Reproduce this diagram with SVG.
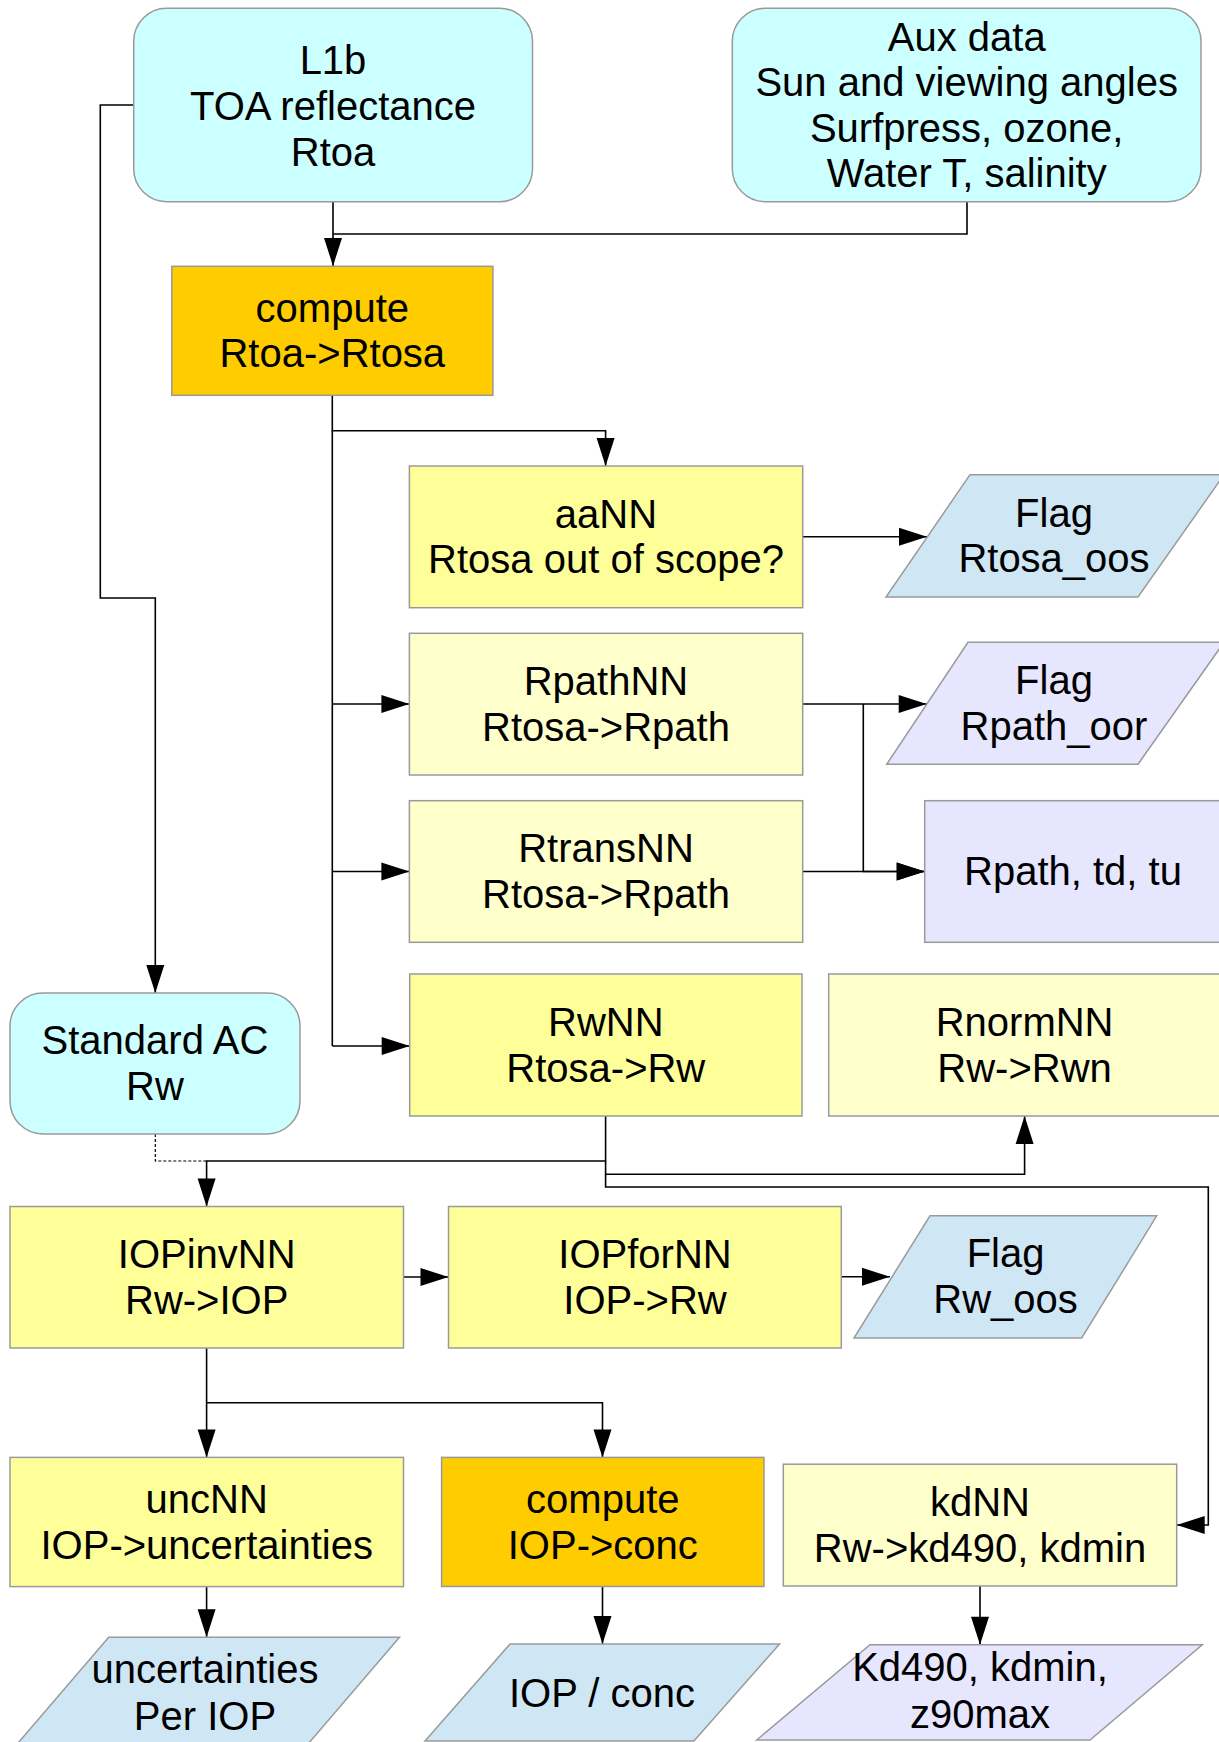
<svg xmlns="http://www.w3.org/2000/svg" width="1219" height="1742" viewBox="0 0 1219 1742">
<defs>
<marker id="arr" markerUnits="userSpaceOnUse" markerWidth="28" markerHeight="18" refX="28" refY="9" orient="auto" overflow="visible">
<path d="M0,0 L28,9 L0,18 Z" fill="#000"/>
</marker>
<style>
.cyan{fill:#CCFFFF;stroke:#9a9a9a;stroke-width:1.5}
.orange{fill:#FFCC00;stroke:#9a9a9a;stroke-width:1.5}
.yel{fill:#FFFF99;stroke:#9a9a9a;stroke-width:1.5}
.pale{fill:#FFFFCC;stroke:#9a9a9a;stroke-width:1.5}
.blue{fill:#CFE7F5;stroke:#9a9a9a;stroke-width:1.5}
.lav{fill:#E6E6FF;stroke:#9a9a9a;stroke-width:1.5}
text{font-family:"Liberation Sans",Arial,sans-serif;font-size:40px;fill:#000;text-anchor:middle}
.c{fill:none;stroke:#000;stroke-width:1.6}
.a{marker-end:url(#arr)}
.d{fill:none;stroke:#000;stroke-width:1.2;stroke-dasharray:3,2}
</style>
</defs>
<rect width="1219" height="1742" fill="#fff"/>

<g id="connectors">
<path class="c a" d="M333,201.7 V266"/>
<path class="c" d="M967,201.7 V234 H333"/>
<path class="c a" d="M133.7,105 H100.3 V598 H155.3 V993"/>
<path class="c a" d="M332.3,395.3 V430.7 H605.6 V466"/>
<path class="c" d="M332.3,430.7 V1046"/>
<path class="c a" d="M332.3,704 H409.4"/>
<path class="c a" d="M332.3,871.5 H409.4"/>
<path class="c a" d="M332.3,1046 H409.7"/>
<path class="c a" d="M802.7,536.7 H927"/>
<path class="c a" d="M802.7,704 H926.7"/>
<path class="c a" d="M863.3,704 V871.5 H924.7"/>
<path class="c a" d="M802.7,871.5 H924.7"/>
<path class="d" d="M155.3,1134 V1161 H206.6"/>
<path class="c a" d="M605.6,1116 V1161 H206.6 V1206.5"/>
<path class="c a" d="M605.6,1161 V1174.3 H1024.6 V1116"/>
<path class="c a" d="M605.6,1174 V1187 H1208.3 V1525 H1176.7"/>
<path class="c a" d="M403.5,1277 H448.5"/>
<path class="c a" d="M841.3,1276.8 H890"/>
<path class="c a" d="M206.6,1348 V1457.4"/>
<path class="c a" d="M206.6,1402.7 H602.5 V1457.4"/>
<path class="c a" d="M206.6,1586.7 V1637.3"/>
<path class="c a" d="M602.5,1586.5 V1644"/>
<path class="c a" d="M980,1586 V1644.8"/>
</g>

<g id="l1b">
<rect class="cyan" x="133.7" y="8.3" width="398.8" height="193.4" rx="33" ry="33"/>
<text x="333" y="74">L1b</text>
<text x="333" y="119.5">TOA reflectance</text>
<text x="333" y="165.5">Rtoa</text>
</g>

<g id="aux">
<rect class="cyan" x="732.3" y="8.3" width="468.7" height="193.4" rx="33" ry="33"/>
<text x="966.7" y="50.5">Aux data</text>
<text x="966.7" y="96">Sun and viewing angles</text>
<text x="966.7" y="141.5">Surfpress, ozone,</text>
<text x="966.7" y="187">Water T, salinity</text>
</g>

<g id="compute1">
<rect class="orange" x="171.8" y="266.3" width="321.1" height="129"/>
<text x="332.3" y="321.5">compute</text>
<text x="332.3" y="367">Rtoa-&gt;Rtosa</text>
</g>

<g id="aaNN">
<rect class="yel" x="409.4" y="466" width="393.3" height="141.7"/>
<text x="606" y="527.5">aaNN</text>
<text x="606" y="573.3">Rtosa out of scope?</text>
</g>

<g id="flag-rtosa">
<polygon class="blue" points="970,474.7 1224,474.7 1138,597 886,597"/>
<text x="1054" y="526.6">Flag</text>
<text x="1054" y="572.4">Rtosa_oos</text>
</g>

<g id="rpathNN">
<rect class="pale" x="409.4" y="633.3" width="393.3" height="141.7"/>
<text x="606" y="694.7">RpathNN</text>
<text x="606" y="740.7">Rtosa-&gt;Rpath</text>
</g>

<g id="flag-rpath">
<polygon class="lav" points="968,642.3 1224,642.3 1138,764.3 886.7,764.3"/>
<text x="1054" y="693.8">Flag</text>
<text x="1054" y="739.8">Rpath_oor</text>
</g>

<g id="rtransNN">
<rect class="pale" x="409.4" y="800.7" width="393.3" height="141.6"/>
<text x="606" y="862">RtransNN</text>
<text x="606" y="908">Rtosa-&gt;Rpath</text>
</g>

<g id="rpath-td-tu">
<rect class="lav" x="924.7" y="800.7" width="297" height="141.6"/>
<text x="1073" y="885">Rpath, td, tu</text>
</g>

<g id="rwNN">
<rect class="yel" x="409.7" y="974" width="392.3" height="142"/>
<text x="605.8" y="1035.5">RwNN</text>
<text x="605.8" y="1081.5">Rtosa-&gt;Rw</text>
</g>

<g id="rnormNN">
<rect class="pale" x="828.7" y="974" width="392" height="142"/>
<text x="1024.6" y="1035.5">RnormNN</text>
<text x="1024.6" y="1081.5">Rw-&gt;Rwn</text>
</g>

<g id="standardAC">
<rect class="cyan" x="10" y="993" width="290" height="141" rx="33" ry="33"/>
<text x="155" y="1054">Standard AC</text>
<text x="155" y="1100">Rw</text>
</g>

<g id="iopinvNN">
<rect class="yel" x="10" y="1206.5" width="393.5" height="141.5"/>
<text x="206.7" y="1267.7">IOPinvNN</text>
<text x="206.7" y="1313.7">Rw-&gt;IOP</text>
</g>

<g id="iopforNN">
<rect class="yel" x="448.5" y="1206.5" width="392.8" height="141.5"/>
<text x="645" y="1267.7">IOPforNN</text>
<text x="645" y="1313.7">IOP-&gt;Rw</text>
</g>

<g id="flag-rw">
<polygon class="blue" points="930,1215.8 1156.7,1215.8 1081.7,1338 854,1338"/>
<text x="1005.6" y="1267.4">Flag</text>
<text x="1005.6" y="1313.4">Rw_oos</text>
</g>

<g id="uncNN">
<rect class="yel" x="10" y="1457.4" width="393.5" height="129.2"/>
<text x="206.7" y="1512.5">uncNN</text>
<text x="206.7" y="1558.5">IOP-&gt;uncertainties</text>
</g>

<g id="compute2">
<rect class="orange" x="441.6" y="1457.4" width="322.4" height="129.1"/>
<text x="602.8" y="1512.5">compute</text>
<text x="602.8" y="1558.5">IOP-&gt;conc</text>
</g>

<g id="kdNN">
<rect class="pale" x="783.3" y="1464.2" width="393.4" height="121.8"/>
<text x="980" y="1515.8">kdNN</text>
<text x="980" y="1561.6">Rw-&gt;kd490, kdmin</text>
</g>

<g id="uncertainties">
<polygon class="blue" points="108.7,1637.3 399.5,1637.3 302,1751 11.2,1751"/>
<text x="205" y="1683.3">uncertainties</text>
<text x="205" y="1730">Per IOP</text>
</g>

<g id="iop-conc">
<polygon class="blue" points="510,1644 779.6,1644 693.9,1741 425,1741"/>
<text x="602" y="1706.5">IOP / conc</text>
</g>

<g id="kd490">
<polygon class="lav" points="870,1644.8 1202.3,1644.8 1090,1740 756.7,1740"/>
<text x="980" y="1681">Kd490, kdmin,</text>
<text x="980" y="1727.5">z90max</text>
</g>
</svg>
